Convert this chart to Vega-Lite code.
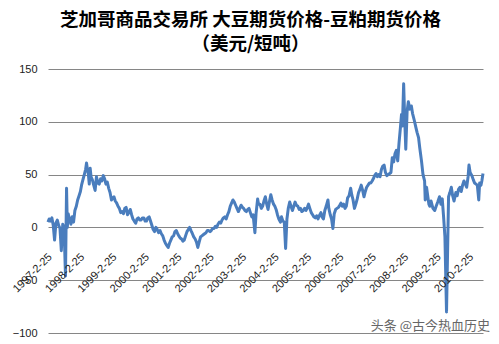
{
  "$schema": "https://vega.github.io/schema/vega-lite/v6.json",
  "autosize": "none",
  "width": 435,
  "height": 264,
  "padding": {"left": 48, "top": 69, "right": 16, "bottom": 11},
  "background": "white",
  "title": {
    "text": ["芝加哥商品交易所 大豆期货价格-豆粕期货价格", "（美元/短吨）"],
    "font": "Noto Sans CJK SC",
    "fontSize": 18.5,
    "fontWeight": "bold",
    "color": "#000000",
    "anchor": "middle",
    "lineHeight": 24,
    "dx": -15,
    "offset": 10
  },
  "config": {"view": {"stroke": null}},
  "datasets": {
    "series": [
      {"date": "1997-02-25", "value": 5},
      {"date": "1997-03-10", "value": 8},
      {"date": "1997-03-25", "value": 6},
      {"date": "1997-04-10", "value": 9},
      {"date": "1997-04-25", "value": 2},
      {"date": "1997-05-10", "value": -12},
      {"date": "1997-05-25", "value": 4},
      {"date": "1997-06-10", "value": 7},
      {"date": "1997-06-25", "value": 2},
      {"date": "1997-07-10", "value": -1},
      {"date": "1997-07-25", "value": -22},
      {"date": "1997-08-10", "value": 3},
      {"date": "1997-08-25", "value": 0},
      {"date": "1997-09-10", "value": -46},
      {"date": "1997-09-22", "value": 37},
      {"date": "1997-10-01", "value": 0},
      {"date": "1997-10-10", "value": 13},
      {"date": "1997-10-25", "value": 8},
      {"date": "1997-11-10", "value": 3},
      {"date": "1997-11-25", "value": 10},
      {"date": "1997-12-10", "value": 5},
      {"date": "1997-12-25", "value": 16},
      {"date": "1998-01-10", "value": 20},
      {"date": "1998-01-25", "value": 26},
      {"date": "1998-02-10", "value": 30},
      {"date": "1998-02-25", "value": 34},
      {"date": "1998-03-10", "value": 40},
      {"date": "1998-03-25", "value": 45},
      {"date": "1998-04-10", "value": 50},
      {"date": "1998-04-25", "value": 55},
      {"date": "1998-05-05", "value": 61},
      {"date": "1998-05-15", "value": 55},
      {"date": "1998-05-25", "value": 51},
      {"date": "1998-06-05", "value": 41},
      {"date": "1998-06-15", "value": 56},
      {"date": "1998-06-25", "value": 48},
      {"date": "1998-07-10", "value": 45},
      {"date": "1998-07-25", "value": 40},
      {"date": "1998-08-10", "value": 35},
      {"date": "1998-08-25", "value": 48},
      {"date": "1998-09-10", "value": 42},
      {"date": "1998-09-25", "value": 41},
      {"date": "1998-10-10", "value": 46},
      {"date": "1998-10-25", "value": 44},
      {"date": "1998-11-10", "value": 49},
      {"date": "1998-11-25", "value": 46},
      {"date": "1998-12-10", "value": 41},
      {"date": "1998-12-25", "value": 43},
      {"date": "1999-01-10", "value": 37},
      {"date": "1999-01-25", "value": 33},
      {"date": "1999-02-10", "value": 26},
      {"date": "1999-02-25", "value": 28},
      {"date": "1999-03-10", "value": 29},
      {"date": "1999-03-25", "value": 25},
      {"date": "1999-04-10", "value": 23},
      {"date": "1999-04-25", "value": 20},
      {"date": "1999-05-10", "value": 18},
      {"date": "1999-05-25", "value": 14},
      {"date": "1999-06-10", "value": 15},
      {"date": "1999-06-25", "value": 13},
      {"date": "1999-07-10", "value": 18},
      {"date": "1999-07-25", "value": 19},
      {"date": "1999-08-10", "value": 12},
      {"date": "1999-08-25", "value": 14},
      {"date": "1999-09-10", "value": 17},
      {"date": "1999-09-25", "value": 12},
      {"date": "1999-10-10", "value": 8},
      {"date": "1999-10-25", "value": 6},
      {"date": "1999-11-10", "value": 4},
      {"date": "1999-11-25", "value": 8},
      {"date": "1999-12-10", "value": 9},
      {"date": "1999-12-25", "value": 7},
      {"date": "2000-01-10", "value": 7},
      {"date": "2000-01-25", "value": 9},
      {"date": "2000-02-10", "value": 9},
      {"date": "2000-02-25", "value": 6},
      {"date": "2000-03-10", "value": 6},
      {"date": "2000-03-25", "value": 9},
      {"date": "2000-04-10", "value": 10},
      {"date": "2000-04-25", "value": 6},
      {"date": "2000-05-10", "value": 2},
      {"date": "2000-05-25", "value": -2},
      {"date": "2000-06-10", "value": -4},
      {"date": "2000-06-25", "value": 0},
      {"date": "2000-07-10", "value": -2},
      {"date": "2000-07-25", "value": -5},
      {"date": "2000-08-10", "value": -3},
      {"date": "2000-08-25", "value": -6},
      {"date": "2000-09-10", "value": -8},
      {"date": "2000-09-25", "value": -12},
      {"date": "2000-10-10", "value": -15},
      {"date": "2000-10-25", "value": -17},
      {"date": "2000-11-10", "value": -19},
      {"date": "2000-11-25", "value": -15},
      {"date": "2000-12-10", "value": -12},
      {"date": "2000-12-25", "value": -9},
      {"date": "2001-01-10", "value": -8},
      {"date": "2001-01-25", "value": -4},
      {"date": "2001-02-10", "value": -3},
      {"date": "2001-02-25", "value": -6},
      {"date": "2001-03-10", "value": -8},
      {"date": "2001-03-25", "value": -10},
      {"date": "2001-04-10", "value": -11},
      {"date": "2001-04-25", "value": -13},
      {"date": "2001-05-10", "value": -12},
      {"date": "2001-05-25", "value": -8},
      {"date": "2001-06-10", "value": -4},
      {"date": "2001-06-25", "value": -2},
      {"date": "2001-07-10", "value": 0},
      {"date": "2001-07-25", "value": -3},
      {"date": "2001-08-10", "value": -6},
      {"date": "2001-08-25", "value": -9},
      {"date": "2001-09-10", "value": -11},
      {"date": "2001-09-25", "value": -14},
      {"date": "2001-10-10", "value": -19},
      {"date": "2001-10-25", "value": -14},
      {"date": "2001-11-10", "value": -9},
      {"date": "2001-11-25", "value": -8},
      {"date": "2001-12-10", "value": -7},
      {"date": "2001-12-25", "value": -6},
      {"date": "2002-01-10", "value": -5},
      {"date": "2002-01-25", "value": -3},
      {"date": "2002-02-10", "value": -3},
      {"date": "2002-02-25", "value": -4},
      {"date": "2002-03-10", "value": -3},
      {"date": "2002-03-25", "value": -1},
      {"date": "2002-04-10", "value": -1},
      {"date": "2002-04-25", "value": 1},
      {"date": "2002-05-10", "value": 0},
      {"date": "2002-05-25", "value": 3},
      {"date": "2002-06-10", "value": 5},
      {"date": "2002-06-25", "value": 4},
      {"date": "2002-07-10", "value": 7},
      {"date": "2002-07-25", "value": 9},
      {"date": "2002-08-10", "value": 10},
      {"date": "2002-08-25", "value": 8},
      {"date": "2002-09-10", "value": 12},
      {"date": "2002-09-25", "value": 15},
      {"date": "2002-10-10", "value": 20},
      {"date": "2002-10-25", "value": 23},
      {"date": "2002-11-10", "value": 26},
      {"date": "2002-11-25", "value": 24},
      {"date": "2002-12-10", "value": 21},
      {"date": "2002-12-25", "value": 18},
      {"date": "2003-01-10", "value": 15},
      {"date": "2003-01-25", "value": 18},
      {"date": "2003-02-10", "value": 21},
      {"date": "2003-02-25", "value": 19},
      {"date": "2003-03-10", "value": 18},
      {"date": "2003-03-25", "value": 16},
      {"date": "2003-04-10", "value": 15},
      {"date": "2003-04-25", "value": 17},
      {"date": "2003-05-10", "value": 18},
      {"date": "2003-05-25", "value": 14},
      {"date": "2003-06-10", "value": 10},
      {"date": "2003-06-25", "value": 12},
      {"date": "2003-07-15", "value": -5},
      {"date": "2003-07-28", "value": 13},
      {"date": "2003-08-15", "value": 27},
      {"date": "2003-08-25", "value": 22},
      {"date": "2003-09-10", "value": 22},
      {"date": "2003-09-25", "value": 18},
      {"date": "2003-10-10", "value": 20},
      {"date": "2003-10-25", "value": 25},
      {"date": "2003-11-10", "value": 29},
      {"date": "2003-11-25", "value": 22},
      {"date": "2003-12-10", "value": 17},
      {"date": "2003-12-25", "value": 24},
      {"date": "2004-01-10", "value": 31},
      {"date": "2004-01-25", "value": 26},
      {"date": "2004-02-10", "value": 22},
      {"date": "2004-02-25", "value": 20},
      {"date": "2004-03-10", "value": 17},
      {"date": "2004-03-25", "value": 12},
      {"date": "2004-04-10", "value": 8},
      {"date": "2004-04-28", "value": 5},
      {"date": "2004-05-10", "value": 10},
      {"date": "2004-05-25", "value": 6},
      {"date": "2004-06-10", "value": 5},
      {"date": "2004-06-25", "value": -20},
      {"date": "2004-07-10", "value": 8},
      {"date": "2004-07-25", "value": 18},
      {"date": "2004-08-10", "value": 24},
      {"date": "2004-08-25", "value": 20},
      {"date": "2004-09-10", "value": 16},
      {"date": "2004-09-25", "value": 20},
      {"date": "2004-10-10", "value": 24},
      {"date": "2004-10-25", "value": 21},
      {"date": "2004-11-10", "value": 20},
      {"date": "2004-11-25", "value": 17},
      {"date": "2004-12-10", "value": 18},
      {"date": "2004-12-25", "value": 15},
      {"date": "2005-01-10", "value": 16},
      {"date": "2005-01-25", "value": 18},
      {"date": "2005-02-10", "value": 16},
      {"date": "2005-02-25", "value": 19},
      {"date": "2005-03-10", "value": 22},
      {"date": "2005-03-25", "value": 18},
      {"date": "2005-04-10", "value": 14},
      {"date": "2005-04-25", "value": 12},
      {"date": "2005-05-10", "value": 10},
      {"date": "2005-05-25", "value": 9},
      {"date": "2005-06-10", "value": 11},
      {"date": "2005-06-25", "value": 8},
      {"date": "2005-07-10", "value": 11},
      {"date": "2005-07-28", "value": 14},
      {"date": "2005-08-10", "value": 10},
      {"date": "2005-08-25", "value": 8},
      {"date": "2005-09-10", "value": 16},
      {"date": "2005-09-25", "value": 20},
      {"date": "2005-10-15", "value": 26},
      {"date": "2005-10-25", "value": 18},
      {"date": "2005-11-10", "value": 12},
      {"date": "2005-11-25", "value": 8},
      {"date": "2005-12-10", "value": -1},
      {"date": "2005-12-25", "value": 13},
      {"date": "2006-01-10", "value": 17},
      {"date": "2006-01-25", "value": 18},
      {"date": "2006-02-10", "value": 19},
      {"date": "2006-02-25", "value": 21},
      {"date": "2006-03-10", "value": 23},
      {"date": "2006-03-25", "value": 20},
      {"date": "2006-04-10", "value": 22},
      {"date": "2006-04-25", "value": 18},
      {"date": "2006-05-10", "value": 20},
      {"date": "2006-05-25", "value": 28},
      {"date": "2006-06-10", "value": 30},
      {"date": "2006-06-28", "value": 37},
      {"date": "2006-07-10", "value": 31},
      {"date": "2006-07-25", "value": 26},
      {"date": "2006-08-10", "value": 18},
      {"date": "2006-08-25", "value": 22},
      {"date": "2006-09-10", "value": 27},
      {"date": "2006-09-25", "value": 33},
      {"date": "2006-10-10", "value": 36},
      {"date": "2006-10-25", "value": 40},
      {"date": "2006-11-10", "value": 35},
      {"date": "2006-11-25", "value": 29},
      {"date": "2006-12-10", "value": 34},
      {"date": "2006-12-25", "value": 38},
      {"date": "2007-01-10", "value": 40},
      {"date": "2007-01-25", "value": 42},
      {"date": "2007-02-10", "value": 42},
      {"date": "2007-02-25", "value": 44},
      {"date": "2007-03-10", "value": 46},
      {"date": "2007-03-25", "value": 49},
      {"date": "2007-04-10", "value": 51},
      {"date": "2007-04-25", "value": 48},
      {"date": "2007-05-10", "value": 50},
      {"date": "2007-05-25", "value": 48},
      {"date": "2007-06-10", "value": 55},
      {"date": "2007-06-25", "value": 58},
      {"date": "2007-07-10", "value": 59},
      {"date": "2007-07-25", "value": 52},
      {"date": "2007-08-10", "value": 49},
      {"date": "2007-08-25", "value": 50},
      {"date": "2007-09-10", "value": 51},
      {"date": "2007-09-25", "value": 52},
      {"date": "2007-10-10", "value": 66},
      {"date": "2007-10-25", "value": 62},
      {"date": "2007-11-10", "value": 70},
      {"date": "2007-11-25", "value": 73},
      {"date": "2007-12-10", "value": 63},
      {"date": "2007-12-25", "value": 80},
      {"date": "2008-01-10", "value": 95},
      {"date": "2008-01-22", "value": 107},
      {"date": "2008-02-01", "value": 96},
      {"date": "2008-02-15", "value": 136},
      {"date": "2008-02-25", "value": 108},
      {"date": "2008-03-10", "value": 74},
      {"date": "2008-03-25", "value": 110},
      {"date": "2008-04-08", "value": 119},
      {"date": "2008-04-25", "value": 112},
      {"date": "2008-05-12", "value": 115},
      {"date": "2008-05-25", "value": 108},
      {"date": "2008-06-15", "value": 101},
      {"date": "2008-07-01", "value": 95},
      {"date": "2008-07-15", "value": 90},
      {"date": "2008-08-01", "value": 85},
      {"date": "2008-08-15", "value": 75},
      {"date": "2008-09-03", "value": 63},
      {"date": "2008-09-20", "value": 50},
      {"date": "2008-10-08", "value": 44},
      {"date": "2008-10-15", "value": 26},
      {"date": "2008-10-30", "value": 38},
      {"date": "2008-11-12", "value": 30},
      {"date": "2008-11-25", "value": 22},
      {"date": "2008-12-05", "value": 20},
      {"date": "2008-12-20", "value": 25},
      {"date": "2009-01-10", "value": 18},
      {"date": "2009-01-30", "value": 16},
      {"date": "2009-02-15", "value": 20},
      {"date": "2009-03-05", "value": 24},
      {"date": "2009-03-25", "value": 29},
      {"date": "2009-04-10", "value": 22},
      {"date": "2009-04-25", "value": 27},
      {"date": "2009-05-10", "value": 10},
      {"date": "2009-05-25", "value": -9},
      {"date": "2009-06-12", "value": -80},
      {"date": "2009-07-05", "value": 29},
      {"date": "2009-07-20", "value": 33},
      {"date": "2009-08-05", "value": 38},
      {"date": "2009-08-20", "value": 30},
      {"date": "2009-09-05", "value": 25},
      {"date": "2009-09-25", "value": 33},
      {"date": "2009-10-10", "value": 30},
      {"date": "2009-10-25", "value": 36},
      {"date": "2009-11-10", "value": 38},
      {"date": "2009-11-25", "value": 34},
      {"date": "2009-12-10", "value": 40},
      {"date": "2009-12-25", "value": 44},
      {"date": "2010-01-10", "value": 41},
      {"date": "2010-01-25", "value": 38},
      {"date": "2010-02-10", "value": 48},
      {"date": "2010-02-20", "value": 59},
      {"date": "2010-03-05", "value": 52},
      {"date": "2010-03-25", "value": 49},
      {"date": "2010-04-10", "value": 45},
      {"date": "2010-04-25", "value": 42},
      {"date": "2010-05-10", "value": 41},
      {"date": "2010-05-25", "value": 40},
      {"date": "2010-06-10", "value": 26},
      {"date": "2010-06-20", "value": 42},
      {"date": "2010-07-05", "value": 40},
      {"date": "2010-07-15", "value": 44},
      {"date": "2010-07-28", "value": 51}
    ]
  },
  "layer": [
    {
      "data": {"name": "series"},
      "mark": {"type": "line", "color": "#4a7dbd", "strokeWidth": 3, "strokeJoin": "round", "clip": false},
      "encoding": {
        "x": {
          "field": "date",
          "type": "temporal",
          "scale": {"type": "utc", "domain": ["1997-02-25", "2010-07-28"]},
          "axis": {
            "title": null,
            "orient": "bottom",
            "offset": -106,
            "domain": false,
            "ticks": false,
            "grid": false,
            "values": [
              "1997-02-25", "1998-02-25", "1999-02-25", "2000-02-25", "2001-02-25",
              "2002-02-25", "2003-02-25", "2004-02-25", "2005-02-25", "2006-02-25",
              "2007-02-25", "2008-02-25", "2009-02-25", "2010-02-25"
            ],
            "labelExpr": "utcFormat(datum.value, '%Y-%-m-%-d')",
            "labelAngle": -45,
            "labelAlign": "right",
            "labelBaseline": "middle",
            "labelPadding": 28,
            "labelOffset": 2,
            "labelFont": "Liberation Sans",
            "labelFontSize": 11,
            "labelColor": "#222222",
            "labelOverlap": false,
            "labelFlush": false,
            "labelBound": false,
            "zindex": 1
          }
        },
        "y": {
          "field": "value",
          "type": "quantitative",
          "scale": {"domain": [-100, 150], "nice": false, "zero": false},
          "axis": {
            "title": null,
            "values": [-100, -50, 0, 50, 100, 150],
            "domain": false,
            "ticks": false,
            "grid": true,
            "gridColor": "#868686",
            "gridWidth": 1,
            "labelPadding": 11,
            "labelFont": "Liberation Sans",
            "labelFontSize": 11,
            "labelColor": "#222222",
            "zindex": 0
          }
        }
      }
    },
    {
      "data": {"values": [{"label": "头条 @古今热血历史"}]},
      "mark": {"type": "text", "align": "center", "baseline": "middle", "font": "Noto Sans CJK SC", "fontSize": 13, "color": "#666666", "clip": false},
      "encoding": {
        "x": {
          "datum": 1229126400000,
          "type": "temporal",
          "axis": {
            "title": null,
            "orient": "bottom",
            "offset": -106,
            "domain": false,
            "ticks": false,
            "grid": false,
            "values": [
              "1997-02-25", "1998-02-25", "1999-02-25", "2000-02-25", "2001-02-25",
              "2002-02-25", "2003-02-25", "2004-02-25", "2005-02-25", "2006-02-25",
              "2007-02-25", "2008-02-25", "2009-02-25", "2010-02-25"
            ],
            "labelExpr": "utcFormat(datum.value, '%Y-%-m-%-d')",
            "labelAngle": -45,
            "labelAlign": "right",
            "labelBaseline": "middle",
            "labelPadding": 28,
            "labelOffset": 2,
            "labelFont": "Liberation Sans",
            "labelFontSize": 11,
            "labelColor": "#222222",
            "labelOverlap": false,
            "labelFlush": false,
            "labelBound": false,
            "zindex": 1
          }
        },
        "y": {
          "datum": -93.5,
          "type": "quantitative",
          "axis": {
            "title": null,
            "values": [-100, -50, 0, 50, 100, 150],
            "domain": false,
            "ticks": false,
            "grid": true,
            "gridColor": "#868686",
            "gridWidth": 1,
            "labelPadding": 11,
            "labelFont": "Liberation Sans",
            "labelFontSize": 11,
            "labelColor": "#222222",
            "zindex": 0
          }
        },
        "text": {"field": "label"}
      }
    }
  ]
}
